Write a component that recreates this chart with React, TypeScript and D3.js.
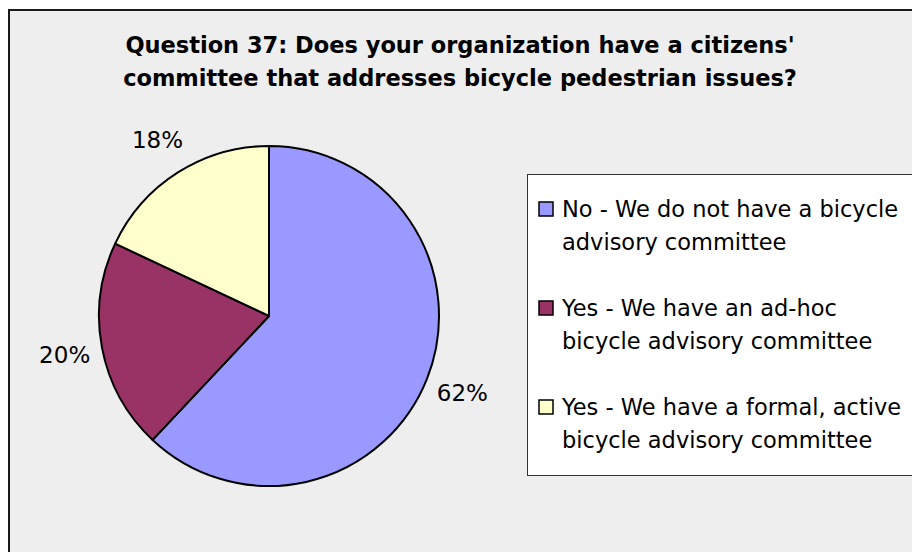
import { useEffect, useRef } from "react"
import * as d3 from "d3"

const WIDTH = 912
const HEIGHT = 552

const titleLines = [
  "Question 37: Does your organization have a citizens'",
  "committee that addresses bicycle pedestrian issues?",
]

const categories = [
  "No - We do not have a bicycle advisory committee",
  "Yes - We have an ad-hoc bicycle advisory committee",
  "Yes - We have a formal, active bicycle advisory committee",
]
const legendLines = [
  ["No - We do not have a bicycle", "advisory committee"],
  ["Yes - We have an ad-hoc", "bicycle advisory committee"],
  ["Yes - We have a formal, active", "bicycle advisory committee"],
]
const values = [62, 20, 18]
const colors = ["#9999ff", "#993366", "#ffffcc"]

interface Slice {
  name: string
  value: number
  color: string
}

export default function App() {
  const svgRef = useRef<SVGSVGElement | null>(null)

  useEffect(() => {
    document.body.style.margin = "0"
    if (!svgRef.current) return
    const svg = d3.select(svgRef.current)
    svg.selectAll("*").remove()

    const data: Slice[] = categories.map((name, i) => ({ name, value: values[i], color: colors[i] }))
    const font = "'DejaVu Sans', Verdana, sans-serif"

    // chart frame
    svg
      .append("rect")
      .attr("x", 9)
      .attr("y", 10)
      .attr("width", WIDTH + 20)
      .attr("height", HEIGHT + 20)
      .attr("fill", "#eeeeee")
      .attr("stroke", "#1a1a1a")
      .attr("stroke-width", 2)

    // title
    svg
      .append("text")
      .attr("x", 460)
      .attr("y", 53)
      .attr("text-anchor", "middle")
      .style("font-family", font)
      .style("font-weight", "bold")
      .style("font-size", "22.5px")
      .style("fill", "#000")
      .selectAll("tspan")
      .data(titleLines)
      .join("tspan")
      .attr("x", 460)
      .attr("dy", (_, i) => (i === 0 ? 0 : 33))
      .text((d) => d)

    // pie
    const cx = 269
    const cy = 316
    const radius = 170
    const pie = d3
      .pie<Slice>()
      .value((d) => d.value)
      .sort(null)
    const arcs = pie(data)
    const arc = d3.arc<d3.PieArcDatum<Slice>>().innerRadius(0).outerRadius(radius)
    const labelArc = d3.arc<d3.PieArcDatum<Slice>>().innerRadius(208).outerRadius(208)

    const g = svg.append("g").attr("transform", `translate(${cx},${cy})`)
    g.selectAll("path.slice")
      .data(arcs)
      .join("path")
      .attr("class", "slice")
      .attr("d", arc)
      .attr("fill", (d) => d.data.color)
      .attr("stroke", "#000")
      .attr("stroke-width", 2)
      .attr("stroke-linejoin", "round")

    const total = d3.sum(values)
    g.selectAll("text.label")
      .data(arcs)
      .join("text")
      .attr("class", "label")
      .attr("transform", (d) => {
        const [x, y] = labelArc.centroid(d)
        return `translate(${x},${y})`
      })
      .attr("text-anchor", "middle")
      .attr("dominant-baseline", "central")
      .style("font-family", font)
      .style("font-size", "23px")
      .style("fill", "#000")
      .text((d) => `${Math.round((d.data.value / total) * 100)}%`)

    // legend
    const legendX = 527
    const legendY = 174
    svg
      .append("rect")
      .attr("x", legendX + 0.5)
      .attr("y", legendY + 0.5)
      .attr("width", 500)
      .attr("height", 301)
      .attr("fill", "#ffffff")
      .attr("stroke", "#333")
      .attr("stroke-width", 1)

    const itemY = d3
      .scalePoint<number>()
      .domain(d3.range(categories.length))
      .range([legendY + 43, legendY + 241])

    const items = svg
      .selectAll("g.legend-item")
      .data(data)
      .join("g")
      .attr("class", "legend-item")
      .attr("transform", (_, i) => `translate(${legendX}, ${itemY(i)})`)

    items
      .append("rect")
      .attr("x", 12)
      .attr("y", -15)
      .attr("width", 14)
      .attr("height", 14)
      .attr("fill", (d) => d.color)
      .attr("stroke", "#000")
      .attr("stroke-width", 1.5)

    items
      .append("text")
      .style("font-family", font)
      .style("font-size", "22.5px")
      .style("fill", "#000")
      .selectAll("tspan")
      .data((_, i) => legendLines[i])
      .join("tspan")
      .attr("x", 35)
      .attr("dy", (_, j) => (j === 0 ? 0 : 33))
      .text((d) => d)
  }, [])

  return <svg ref={svgRef} width={WIDTH} height={HEIGHT} style={{ display: "block" }}></svg>
}
